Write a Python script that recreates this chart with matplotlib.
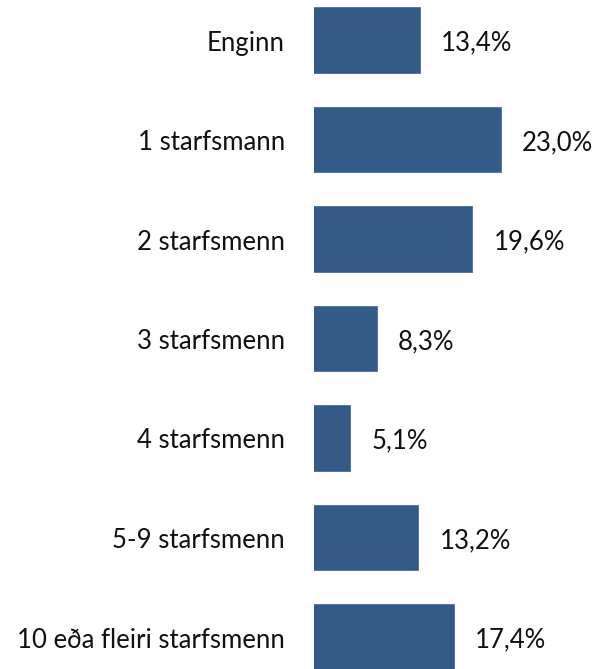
import matplotlib.pyplot as plt

# gögn
flokkar = ['Enginn', '1 starfsmann', '2 starfsmenn', '3 starfsmenn',
           '4 starfsmenn', '5-9 starfsmenn', '10 eða fleiri starfsmenn']
gildi = [13.4, 23.0, 19.6, 8.3, 5.1, 13.2, 17.4]
merki = ['13,4%', '23,0%', '19,6%', '8,3%', '5,1%', '13,2%', '17,4%']

plt.rcParams['font.family'] = ['Lato', 'DejaVu Sans']

W, H = 593, 669
fig = plt.figure(figsize=(W / 100, H / 100), dpi=100)
ax = fig.add_axes([314 / W, 0, 1 - 314 / W, 1])

y = list(range(len(flokkar)))
ax.barh(y, gildi, height=0.66, color='#345a87', edgecolor='#4a6f9c', linewidth=0.6)

ax.set_xlim(0.83, 33.9)
ax.set_ylim(6.32, -0.40)
ax.axis('off')

fs = 18.5
for i, (v, m) in enumerate(zip(gildi, merki)):
    ax.text(v + 2.5, i + 0.03, m, va='center', ha='left', fontsize=fs, color='#111111')

# flokkaheiti vinstra megin
for i, f in enumerate(flokkar):
    yy = 1 - (40 + 99.5 * i + 3) / H
    fig.text(285 / W, yy, f, va='center', ha='right', fontsize=fs, color='#111111')

fig.savefig('out.png', dpi=100)
